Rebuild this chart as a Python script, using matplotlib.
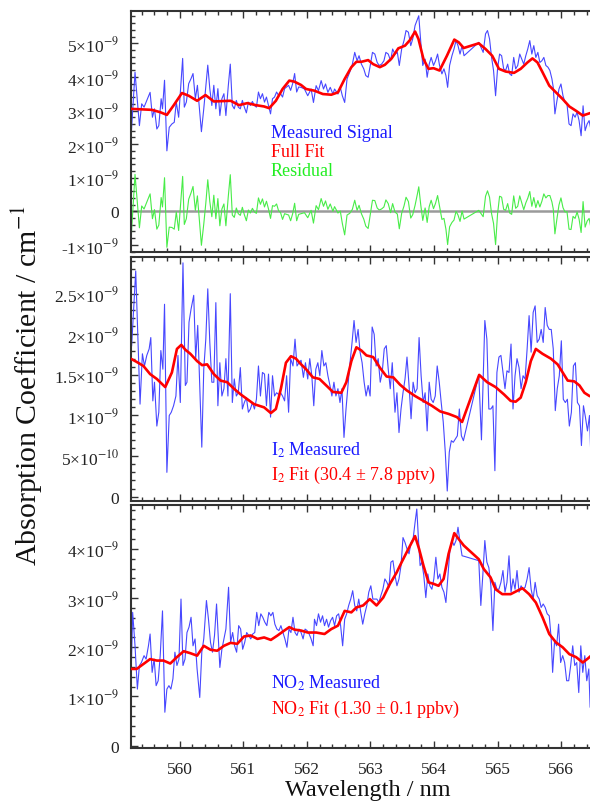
import numpy as np
import matplotlib
matplotlib.use('Agg')
import matplotlib.pyplot as plt
from matplotlib.ticker import MultipleLocator

plt.rcParams['font.family'] = ['Liberation Serif', 'DejaVu Serif']
plt.rcParams['mathtext.fontset'] = 'stix'

# ---------------- data (absorption in units of 1e-9 cm^-1) ----------------
top_wl = [559.229, 559.298, 559.367, 559.403, 559.440, 559.483, 559.535, 559.572, 559.604, 559.641,
          559.672, 559.709, 559.730, 559.762, 559.799, 559.836, 559.878, 559.915, 559.947, 559.984,
          560.047, 560.073, 560.105, 560.142, 560.179, 560.210, 560.247, 560.279, 560.311, 560.342,
          560.379, 560.411, 560.442, 560.474, 560.506, 560.537, 560.569, 560.601, 560.632, 560.664,
          560.696, 560.727, 560.764, 560.796, 560.828, 560.859, 560.891, 560.922, 560.954, 560.986,
          561.017, 561.049, 561.081, 561.112, 561.144, 561.176, 561.207, 561.239, 561.270, 561.302,
          561.334, 561.365, 561.397, 561.429, 561.460, 561.492, 561.524, 561.555, 561.587, 561.618,
          561.650, 561.682, 561.713, 561.745, 561.777, 561.808, 561.840, 561.872, 561.909, 561.962,
          562.014, 562.067, 562.104, 562.146, 562.183, 562.225, 562.262, 562.294, 562.331, 562.368,
          562.410, 562.436, 562.489, 562.526, 562.558, 562.595, 562.632, 562.674, 562.716, 562.753,
          562.790, 562.821, 562.858, 562.895, 562.927, 562.964, 563.001, 563.032, 563.069, 563.106,
          563.138, 563.175, 563.212, 563.243, 563.280, 563.317, 563.349, 563.386, 563.423, 563.454,
          563.491, 563.528, 563.560, 563.597, 563.634, 563.665, 563.702, 563.739, 563.760, 563.792,
          563.823, 563.860, 563.892, 563.924, 563.955, 563.992, 564.024, 564.056, 564.087, 564.124,
          564.156, 564.187, 564.214, 564.245, 564.282, 564.314, 564.346, 564.377, 564.409, 564.441,
          564.472, 564.704, 564.773, 564.810, 564.841, 564.873, 564.905, 564.936, 564.968, 564.999,
          565.031, 565.063, 565.095, 565.126, 565.158, 565.189, 565.221, 565.253, 565.284, 565.316,
          565.348, 565.379, 565.411, 565.443, 565.474, 565.506, 565.538, 565.569, 565.601, 565.633,
          565.664, 565.696, 565.727, 565.759, 565.791, 565.822, 565.854, 565.875, 565.901, 565.933,
          565.965, 565.996, 566.028, 566.060, 566.091, 566.123, 566.155, 566.186, 566.218, 566.250,
          566.281, 566.313, 566.344, 566.376, 566.408, 566.439, 566.471, 566.497]
top_signal = [2.00, 4.14, 2.55, 3.20, 3.10, 3.30, 3.54, 2.80, 3.05, 2.45,
              2.55, 3.35, 3.05, 3.90, 1.80, 2.50, 2.60, 2.65, 3.25, 2.80,
              4.55, 3.10, 3.25, 3.80, 3.95, 4.10, 3.35, 3.75, 3.05, 2.37,
              3.05, 3.70, 4.35, 3.65, 3.15, 3.75, 3.05, 3.65, 2.85, 3.35,
              3.50, 2.85, 3.72, 4.38, 3.15, 3.05, 3.30, 3.10, 3.05, 3.30,
              3.10, 2.93, 3.25, 3.15, 3.27, 3.15, 3.10, 3.55, 3.35, 3.50,
              3.25, 3.40, 3.15, 2.90, 3.35, 3.40, 3.55, 3.45, 3.50, 3.40,
              3.65, 3.70, 3.75, 3.60, 3.80, 4.10, 3.55, 3.70, 3.69, 3.64,
              3.44, 3.64, 3.24, 3.74, 3.59, 3.89, 3.64, 3.79, 3.54, 3.69,
              3.49, 3.64, 3.49, 3.69, 3.44, 3.24, 3.94, 4.14, 4.38, 4.73,
              4.48, 4.63, 4.38, 4.24, 4.04, 3.99, 4.38, 4.73, 4.68, 4.43,
              4.34, 4.38, 4.48, 4.73, 4.68, 4.48, 4.83, 4.68, 4.73, 4.34,
              4.83, 5.08, 5.38, 5.33, 4.93, 5.13, 5.53, 5.72, 5.82, 5.03,
              4.34, 4.53, 3.99, 4.38, 4.58, 4.34, 4.48, 4.68, 4.34, 4.09,
              4.24, 4.04, 3.69, 4.34, 4.63, 4.83, 5.08, 4.93, 4.68, 4.93,
              4.63, 5.03, 4.73, 5.28, 5.38, 5.13, 4.58, 4.19, 3.44, 4.24,
              4.68, 4.63, 4.24, 4.19, 4.38, 4.09, 4.04, 4.58, 4.24, 4.34,
              4.68, 4.53, 4.38, 4.63, 4.83, 5.08, 4.68, 4.93, 4.58, 4.73,
              4.43, 4.48, 4.58, 4.34, 4.29, 4.19, 3.94, 3.69, 2.90, 3.29,
              3.64, 3.79, 3.44, 3.24, 3.19, 2.60, 2.55, 2.90, 2.80, 2.95,
              2.70, 2.25, 3.14, 2.40, 2.60, 2.70, 2.40, 1.81]
top_residual = [-1.05, 1.10, -0.49, 0.16, 0.07, 0.27, 0.52, -0.22, 0.05, -0.53,
                -0.41, 0.41, 0.13, 1.00, -1.07, -0.47, -0.48, -0.53, -0.02, -0.57,
                1.04, -0.39, -0.22, 0.36, 0.55, 0.74, 0.03, 0.46, -0.29, -1.01,
                -0.38, 0.24, 0.94, 0.29, -0.16, 0.48, -0.22, 0.38, -0.43, 0.07,
                0.22, -0.43, 0.43, 1.09, -0.11, -0.18, 0.10, -0.07, -0.12, 0.12,
                -0.10, -0.28, 0.04, -0.05, 0.09, -0.02, -0.06, 0.40, 0.21, 0.37,
                0.13, 0.30, 0.07, -0.21, 0.17, 0.15, 0.22, 0.02, -0.04, -0.24,
                -0.07, -0.09, -0.11, -0.28, -0.07, 0.24, -0.28, -0.09, -0.07, -0.04,
                -0.19, 0.03, -0.35, 0.17, 0.05, 0.38, 0.15, 0.31, 0.06, 0.22,
                0.00, 0.14, -0.05, 0.01, -0.36, -0.70, -0.11, -0.06, 0.06, 0.33,
                0.03, 0.18, -0.07, -0.23, -0.44, -0.51, -0.06, 0.33, 0.32, 0.10,
                0.04, 0.07, 0.13, 0.34, 0.23, -0.04, 0.23, -0.02, -0.08, -0.52,
                -0.06, 0.16, 0.42, 0.29, -0.20, -0.10, 0.18, 0.52, 0.73, 0.18,
                -0.27, 0.10, -0.33, 0.14, 0.33, 0.08, 0.24, 0.47, 0.15, -0.24,
                -0.21, -0.53, -0.99, -0.46, -0.33, -0.26, 0.00, -0.11, -0.30, 0.01,
                -0.23, 0.03, -0.16, 0.45, 0.61, 0.42, -0.07, -0.36, -0.99, -0.08,
                0.45, 0.42, 0.06, 0.03, 0.23, -0.05, -0.09, 0.46, 0.09, 0.15,
                0.46, 0.26, 0.05, 0.25, 0.39, 0.59, 0.15, 0.41, 0.11, 0.32,
                0.13, 0.30, 0.52, 0.40, 0.47, 0.47, 0.28, 0.07, -0.67, -0.22,
                0.19, 0.40, 0.11, -0.02, -0.01, -0.53, -0.54, -0.15, -0.21, -0.02,
                -0.23, -0.63, 0.29, -0.47, -0.29, -0.21, -0.53, -1.14]
top_fit_wl = [559.229, 559.562, 559.694, 559.799, 559.904, 560.036, 560.142, 560.274, 560.406, 560.537,
              560.669, 560.801, 560.933, 561.065, 561.197, 561.328, 561.408, 561.513, 561.618, 561.724,
              561.803, 561.909, 561.988, 562.120, 562.252, 562.384, 562.489, 562.595, 562.700, 562.779,
              562.858, 562.964, 563.043, 563.148, 563.227, 563.333, 563.438, 563.544, 563.623, 563.702,
              563.755, 563.834, 563.913, 563.992, 564.087, 564.203, 564.319, 564.388, 564.467, 564.704,
              564.810, 564.915, 565.021, 565.126, 565.258, 565.363, 565.469, 565.548, 565.627, 565.706,
              565.812, 565.917, 566.023, 566.128, 566.234, 566.339, 566.418, 566.497]
top_fit = [3.05, 3.02, 2.95, 2.87, 3.15, 3.52, 3.44, 3.29, 3.46, 3.27,
           3.28, 3.29, 3.16, 3.22, 3.16, 3.12, 3.07, 3.29, 3.64, 3.89,
           3.86, 3.76, 3.64, 3.59, 3.49, 3.47, 3.54, 3.94, 4.29, 4.45,
           4.45, 4.50, 4.38, 4.29, 4.36, 4.55, 4.85, 4.93, 5.10, 5.35,
           5.13, 4.53, 4.24, 4.26, 4.19, 4.63, 5.11, 5.03, 4.86, 5.00,
           4.83, 4.63, 4.24, 4.16, 4.12, 4.24, 4.43, 4.55, 4.43, 4.14,
           3.74, 3.54, 3.34, 3.12, 2.99, 2.85, 2.90, 2.95]

i2_wl = [559.245, 559.309, 559.340, 559.377, 559.414, 559.446, 559.483, 559.520, 559.546, 559.578,
         559.604, 559.641, 559.672, 559.704, 559.736, 559.762, 559.799, 559.836, 559.868, 559.904,
         559.941, 559.973, 560.010, 560.052, 560.089, 560.115, 560.147, 560.179, 560.221, 560.252,
         560.284, 560.316, 560.348, 560.379, 560.411, 560.442, 560.474, 560.506, 560.537, 560.569,
         560.601, 560.632, 560.664, 560.696, 560.727, 560.759, 560.796, 560.828, 560.859, 560.891,
         560.922, 560.954, 560.986, 561.017, 561.049, 561.081, 561.112, 561.144, 561.176, 561.207,
         561.239, 561.270, 561.302, 561.334, 561.365, 561.397, 561.429, 561.460, 561.492, 561.524,
         561.555, 561.587, 561.618, 561.650, 561.682, 561.713, 561.745, 561.782, 561.814, 561.845,
         561.877, 561.909, 561.946, 561.978, 562.014, 562.046, 562.078, 562.109, 562.141, 562.173,
         562.204, 562.236, 562.268, 562.299, 562.331, 562.363, 562.394, 562.426, 562.457, 562.489,
         562.521, 562.552, 562.584, 562.616, 562.647, 562.679, 562.711, 562.742, 562.774, 562.806,
         562.837, 562.869, 562.901, 562.932, 562.964, 562.995, 563.027, 563.059, 563.090, 563.122,
         563.154, 563.185, 563.217, 563.249, 563.280, 563.312, 563.343, 563.386, 563.417, 563.449,
         563.481, 563.512, 563.544, 563.575, 563.607, 563.639, 563.671, 563.702, 563.734, 563.765,
         563.797, 563.829, 563.860, 563.892, 563.924, 563.955, 563.987, 564.019, 564.050, 564.082,
         564.113, 564.145, 564.177, 564.208, 564.240, 564.272, 564.303, 564.335, 564.367, 564.398,
         564.430, 564.462, 564.704, 564.746, 564.799, 564.831, 564.862, 564.894, 564.926, 564.957,
         564.989, 565.021, 565.052, 565.084, 565.116, 565.147, 565.179, 565.211, 565.242, 565.274,
         565.305, 565.337, 565.369, 565.400, 565.432, 565.464, 565.495, 565.527, 565.559, 565.590,
         565.622, 565.654, 565.685, 565.717, 565.748, 565.780, 565.812, 565.843, 565.875, 565.907,
         565.938, 565.970, 566.002, 566.033, 566.065, 566.097, 566.128, 566.160, 566.192, 566.223,
         566.255, 566.287, 566.318, 566.350, 566.381, 566.413, 566.445, 566.476, 566.497]
i2_measured = [1.86, 2.78, 2.02, 1.14, 1.76, 1.61, 1.74, 1.82, 1.96, 1.18,
               1.41, 0.87, 1.04, 1.80, 1.57, 2.37, 0.30, 1.00, 1.04, 1.12,
               1.24, 1.74, 1.16, 2.88, 1.37, 1.41, 2.15, 2.31, 2.48, 1.70,
               2.11, 1.37, 0.61, 1.57, 1.94, 2.56, 1.90, 1.41, 1.41, 2.39,
               1.12, 1.65, 1.24, 1.33, 1.70, 1.24, 2.50, 1.16, 1.45, 1.24,
               1.28, 1.59, 1.08, 1.16, 1.22, 1.04, 1.08, 1.16, 1.08, 1.20,
               1.61, 1.24, 1.53, 1.51, 1.12, 1.51, 0.98, 1.49, 1.24, 1.28,
               1.26, 1.28, 1.24, 1.18, 1.49, 1.04, 1.70, 1.61, 1.94, 1.61,
               1.65, 1.68, 1.47, 1.65, 1.45, 1.70, 1.49, 1.12, 1.57, 1.65,
               1.49, 1.80, 1.61, 1.65, 1.49, 1.37, 1.24, 1.41, 1.24, 1.33,
               1.16, 1.33, 0.73, 1.08, 1.37, 1.65, 1.90, 2.17, 1.90, 2.06,
               1.78, 1.65, 1.41, 1.24, 1.37, 1.24, 2.09, 2.00, 1.61, 1.70,
               1.41, 1.53, 1.82, 1.86, 1.57, 1.33, 1.65, 1.04, 1.28, 0.79,
               1.08, 1.28, 1.45, 1.72, 1.37, 0.96, 1.41, 1.28, 1.33, 1.96,
               1.49, 1.16, 1.28, 0.81, 1.41, 1.20, 1.16, 1.24, 1.61, 1.41,
               1.16, 0.92, 0.55, 0.07, 0.55, 0.69, 0.67, 0.71, 0.75, 1.08,
               0.75, 0.69, 1.50, 0.70, 2.17, 1.94, 1.08, 1.08, 1.12, 0.32,
               1.53, 1.72, 1.74, 1.53, 1.33, 1.55, 1.53, 1.88, 1.08, 1.49,
               1.70, 1.59, 1.33, 1.49, 1.45, 1.82, 2.23, 1.78, 2.27, 2.35,
               1.90, 1.94, 2.06, 1.90, 2.33, 2.11, 2.06, 2.06, 1.82, 1.06,
               1.33, 1.49, 1.92, 1.20, 1.16, 1.20, 0.87, 1.04, 1.61, 1.65,
               1.16, 1.12, 0.63, 1.12, 0.98, 0.81, 1.00, 0.26, 0.10]
i2_fit_wl = [559.229, 559.324, 559.430, 559.535, 559.641, 559.773, 559.878, 559.957, 560.026, 560.089,
             560.168, 560.274, 560.353, 560.432, 560.537, 560.643, 560.748, 560.854, 560.959, 561.065,
             561.170, 561.249, 561.328, 561.434, 561.513, 561.592, 561.671, 561.750, 561.829, 561.909,
             561.988, 562.094, 562.199, 562.305, 562.410, 562.542, 562.621, 562.700, 562.779, 562.858,
             562.937, 563.043, 563.148, 563.254, 563.359, 563.465, 563.570, 563.702, 563.834, 563.966,
             564.098, 564.229, 564.361, 564.441, 564.710, 564.836, 564.968, 565.100, 565.205, 565.284,
             565.363, 565.443, 565.522, 565.601, 565.706, 565.838, 565.943, 566.023, 566.102, 566.207,
             566.287, 566.365, 566.445, 566.497]
i2_fit = [1.70, 1.66, 1.61, 1.51, 1.45, 1.35, 1.53, 1.82, 1.87, 1.81,
          1.76, 1.67, 1.62, 1.63, 1.51, 1.43, 1.41, 1.33, 1.26, 1.20,
          1.14, 1.12, 1.10, 1.03, 1.08, 1.33, 1.65, 1.73, 1.70, 1.63,
          1.57, 1.47, 1.45, 1.37, 1.29, 1.28, 1.41, 1.67, 1.84, 1.80,
          1.74, 1.72, 1.59, 1.48, 1.47, 1.38, 1.31, 1.24, 1.18, 1.12,
          1.05, 1.02, 0.98, 0.92, 1.50, 1.41, 1.35, 1.26, 1.18, 1.17,
          1.22, 1.41, 1.67, 1.82, 1.76, 1.70, 1.63, 1.53, 1.43, 1.42,
          1.37, 1.28, 1.24, 1.23]

no2_wl = [559.219, 559.261, 559.298, 559.335, 559.367, 559.398, 559.440, 559.472, 559.509, 559.535,
          559.567, 559.599, 559.630, 559.662, 559.694, 559.730, 559.767, 559.799, 559.831, 559.862,
          559.894, 559.925, 559.957, 559.989, 560.021, 560.052, 560.084, 560.115, 560.147, 560.179,
          560.210, 560.242, 560.274, 560.316, 560.348, 560.379, 560.421, 560.453, 560.485, 560.516,
          560.548, 560.580, 560.611, 560.632, 560.664, 560.696, 560.727, 560.769, 560.801, 560.833,
          560.864, 560.896, 560.928, 560.959, 560.991, 561.023, 561.054, 561.086, 561.118, 561.149,
          561.181, 561.212, 561.244, 561.276, 561.307, 561.339, 561.371, 561.402, 561.434, 561.466,
          561.497, 561.529, 561.561, 561.592, 561.624, 561.655, 561.687, 561.719, 561.750, 561.782,
          561.814, 561.845, 561.877, 561.909, 561.941, 561.972, 562.004, 562.036, 562.067, 562.099,
          562.120, 562.152, 562.183, 562.215, 562.247, 562.278, 562.310, 562.341, 562.373, 562.405,
          562.436, 562.468, 562.500, 562.531, 562.563, 562.595, 562.626, 562.658, 562.690, 562.721,
          562.753, 562.785, 562.816, 562.848, 562.879, 562.911, 562.943, 562.974, 563.006, 563.038,
          563.069, 563.101, 563.133, 563.164, 563.196, 563.227, 563.259, 563.291, 563.322, 563.354,
          563.386, 563.417, 563.449, 563.481, 563.512, 563.544, 563.575, 563.607, 563.639, 563.671,
          563.702, 563.729, 563.755, 563.781, 563.808, 563.839, 563.871, 563.903, 563.934, 563.966,
          563.997, 564.029, 564.061, 564.092, 564.124, 564.156, 564.187, 564.219, 564.251, 564.282,
          564.314, 564.346, 564.377, 564.409, 564.441, 564.472, 564.704, 564.736, 564.767, 564.799,
          564.831, 564.862, 564.894, 564.926, 564.957, 564.989, 565.021, 565.052, 565.084, 565.116,
          565.147, 565.179, 565.211, 565.242, 565.274, 565.305, 565.337, 565.369, 565.400, 565.432,
          565.464, 565.495, 565.527, 565.559, 565.590, 565.622, 565.654, 565.685, 565.717, 565.748,
          565.780, 565.812, 565.843, 565.865, 565.896, 565.928, 565.959, 565.991, 566.023, 566.054,
          566.086, 566.118, 566.149, 566.181, 566.213, 566.244, 566.276, 566.308, 566.339, 566.371,
          566.402, 566.434, 566.455, 566.476, 566.497]
no2_measured = [0.51, 2.71, 2.03, 1.15, 1.63, 1.69, 1.83, 1.76, 2.03, 2.27,
                1.49, 1.76, 1.22, 1.32, 1.83, 2.74, 0.68, 1.15, 1.22, 1.15,
                1.36, 1.90, 1.63, 1.76, 2.98, 1.63, 1.76, 2.30, 2.41, 2.61,
                2.03, 2.17, 1.56, 0.98, 1.90, 2.17, 2.95, 2.57, 2.10, 1.90,
                2.24, 2.88, 2.10, 1.59, 1.96, 2.17, 2.37, 3.22, 2.10, 2.30,
                2.03, 1.90, 2.44, 2.37, 1.96, 2.10, 2.30, 2.24, 2.17, 2.27,
                2.30, 2.71, 2.44, 2.68, 2.61, 2.51, 2.44, 2.71, 2.64, 2.71,
                2.47, 2.37, 2.34, 2.44, 2.30, 2.17, 2.00, 2.37, 2.30, 2.61,
                2.30, 2.24, 2.37, 2.30, 2.17, 2.37, 2.34, 2.27, 2.17, 2.03,
                2.57, 2.44, 2.68, 2.51, 2.64, 2.44, 2.57, 2.41, 2.54, 2.61,
                2.44, 2.64, 2.68, 2.44, 2.03, 2.57, 2.68, 2.85, 2.98, 3.15,
                2.85, 2.74, 2.98, 2.71, 2.47, 2.68, 2.85, 3.12, 3.25, 2.98,
                2.98, 2.98, 2.91, 3.05, 3.18, 3.39, 3.32, 3.22, 3.73, 3.76,
                3.46, 3.25, 3.39, 3.66, 4.23, 4.13, 4.00, 3.90, 4.13, 4.20,
                4.54, 4.81, 4.20, 3.66, 3.73, 3.46, 3.01, 3.49, 3.25, 3.18,
                3.39, 3.83, 3.39, 3.49, 3.22, 3.12, 2.91, 3.46, 4.00, 4.17,
                4.07, 4.17, 4.44, 4.13, 3.86, 3.85, 3.76, 2.85, 3.46, 4.17,
                3.73, 3.62, 3.25, 2.34, 3.32, 3.18, 3.18, 3.32, 3.56, 3.12,
                3.32, 3.86, 3.12, 3.39, 3.18, 3.56, 3.12, 3.25, 3.18, 3.22,
                3.39, 3.62, 3.18, 2.98, 3.32, 3.05, 2.98, 2.81, 2.88, 2.81,
                2.68, 2.64, 2.17, 1.49, 2.13, 2.03, 2.47, 1.69, 1.83, 1.69,
                1.32, 1.32, 1.63, 2.03, 1.63, 1.69, 1.08, 2.03, 1.49, 1.83,
                1.32, 1.56, 0.78, 2.10, 1.93]
no2_fit_wl = [559.229, 559.324, 559.430, 559.535, 559.641, 559.746, 559.852, 559.957, 560.063, 560.168,
              560.274, 560.379, 560.485, 560.590, 560.696, 560.801, 560.906, 561.012, 561.118, 561.223,
              561.328, 561.434, 561.539, 561.645, 561.724, 561.803, 561.909, 562.014, 562.146, 562.278,
              562.384, 562.489, 562.595, 562.700, 562.779, 562.885, 562.990, 563.096, 563.201, 563.307,
              563.412, 563.491, 563.597, 563.702, 563.765, 563.834, 563.913, 563.992, 564.071, 564.151,
              564.229, 564.319, 564.388, 564.467, 564.704, 564.783, 564.889, 564.968, 565.073, 565.205,
              565.311, 565.390, 565.495, 565.601, 565.706, 565.812, 565.917, 566.023, 566.128, 566.234,
              566.339, 566.418, 566.497]
no2_fit = [1.56, 1.56, 1.66, 1.76, 1.73, 1.73, 1.67, 1.80, 1.92, 1.88,
           1.83, 2.03, 1.95, 1.93, 2.03, 2.09, 2.07, 2.22, 2.24, 2.17,
           2.20, 2.15, 2.24, 2.34, 2.41, 2.36, 2.34, 2.30, 2.30, 2.27,
           2.37, 2.44, 2.74, 2.71, 2.81, 2.85, 2.98, 2.85, 3.01, 3.29,
           3.52, 3.73, 4.00, 4.26, 4.00, 3.66, 3.32, 3.29, 3.25, 3.39,
           3.90, 4.32, 4.20, 4.07, 3.79, 3.59, 3.42, 3.18, 3.08, 3.08,
           3.15, 3.20, 3.08, 2.91, 2.61, 2.27, 2.10, 2.00, 1.86, 1.80,
           1.69, 1.77, 1.86]

x_ticks = [560, 561, 562, 563, 564, 565, 566]
top_yticks = [-1, 0, 1, 2, 3, 4, 5]
top_ylabels = ['-1×10$^{-9}$', '0', '1×10$^{-9}$', '2×10$^{-9}$', '3×10$^{-9}$', '4×10$^{-9}$', '5×10$^{-9}$']
mid_yticks = [0, 0.5, 1.0, 1.5, 2.0, 2.5]
mid_ylabels = ['0', '5×10$^{-10}$', '1×10$^{-9}$', '1.5×10$^{-9}$', '2×10$^{-9}$', '2.5×10$^{-9}$']
bot_yticks = [0, 1, 2, 3, 4]
bot_ylabels = ['0', '1×10$^{-9}$', '2×10$^{-9}$', '3×10$^{-9}$', '4×10$^{-9}$']

# ---------------- styling ----------------
BLUE = '#4747ff'
RED = '#ff0000'
GREEN = '#48ec48'
SPINE = '#333333'

fig = plt.figure(figsize=(5.9, 8.03), dpi=100)
L = 130.7 / 590
W = (593 - 130.7) / 590
ax1 = fig.add_axes([L, 1 - 253 / 803, W, (253 - 11.7) / 803])
ax2 = fig.add_axes([L, 1 - 502 / 803, W, (502 - 258) / 803])
ax3 = fig.add_axes([L, 1 - 749 / 803, W, (749 - 506) / 803])


def style(ax, yticks, ylabels, yminor, ylim, show_x):
    ax.set_xlim(559.23, 566.5)
    ax.set_ylim(*ylim)
    ax.set_yticks(yticks)
    ax.set_yticklabels(ylabels)
    ax.yaxis.set_minor_locator(MultipleLocator(yminor))
    ax.set_xticks(x_ticks)
    ax.xaxis.set_minor_locator(MultipleLocator(0.2))
    ax.tick_params(which='both', direction='in', top=True, bottom=True,
                   left=True, right=False, color=SPINE, width=1)
    ax.tick_params(which='major', length=5)
    ax.tick_params(which='minor', length=3)
    ax.tick_params(axis='y', labelsize=12.5, pad=8.4, labelcolor='#222222')
    ax.tick_params(axis='x', labelsize=12.5, pad=9.5, labelcolor='#222222')
    if not show_x:
        ax.tick_params(axis='x', labelbottom=False)
    for s in ax.spines.values():
        s.set_color(SPINE)
        s.set_linewidth(1.5)


# top panel
ax1.axhline(0, color='#9a9a9a', lw=1.8, zorder=1)
ax1.plot(top_wl, top_residual, color=GREEN, lw=0.8, zorder=2)
ax1.plot(top_wl, top_signal, color=BLUE, lw=0.8, zorder=2)
ax1.plot(top_fit_wl, top_fit, color=RED, lw=1.9, zorder=3)
style(ax1, top_yticks, top_ylabels, 0.2, (-1.21, 5.97), False)
ax1.text(561.434, 2.20, 'Measured Signal', color='#1a1aff', fontsize=13)
ax1.text(561.434, 1.65, 'Full Fit', color=RED, fontsize=13)
ax1.text(561.434, 1.08, 'Residual', color='#22ee22', fontsize=13)

# middle panel
ax2.plot(i2_wl, i2_measured, color=BLUE, lw=0.8, zorder=2)
ax2.plot(i2_fit_wl, i2_fit, color=RED, lw=1.9, zorder=3)
style(ax2, mid_yticks, mid_ylabels, 0.1, (-0.053, 2.952), False)
ax2.text(561.434, 0.52, 'I$_2$ Measured', color='#1a1aff', fontsize=13)
ax2.text(561.434, 0.22, 'I$_2$ Fit (30.4 ± 7.8 pptv)', color=RED, fontsize=13)

# bottom panel
ax3.plot(no2_wl, no2_measured, color=BLUE, lw=0.8, zorder=2)
ax3.plot(no2_fit_wl, no2_fit, color=RED, lw=1.9, zorder=3)
style(ax3, bot_yticks, bot_ylabels, 0.2, (-0.047, 4.892), True)
ax3.text(561.434, 1.18, 'NO$_2$ Measured', color='#1a1aff', fontsize=13)
ax3.text(561.434, 0.66, 'NO$_2$ Fit (1.30 ± 0.1 ppbv)', color=RED, fontsize=13)

fig.text(27 / 590, 1 - 385 / 803, 'Absorption Coefficient / cm$^{-1}$', rotation=90,
         ha='center', va='center', fontsize=21.5, color='#111111')
fig.text(368 / 590, 1 - 791 / 803, 'Wavelength / nm', ha='center', va='center',
         fontsize=17.5, color='#111111')

fig.savefig('out.png', dpi=100)
